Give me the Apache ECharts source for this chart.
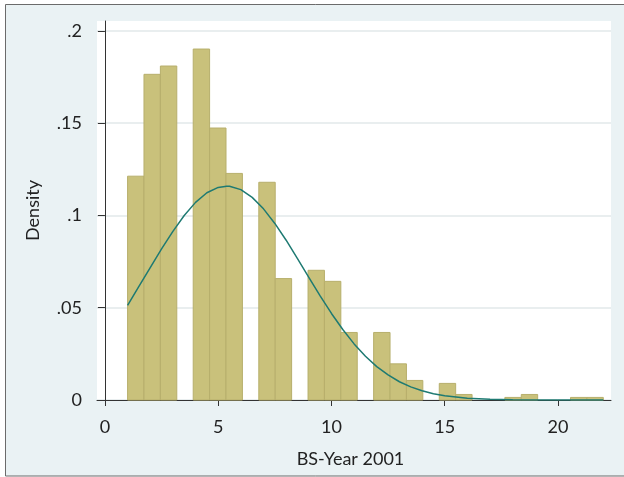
<!DOCTYPE html>
<html>
<head>
<meta charset="utf-8">
<script src="https://cdn.jsdelivr.net/npm/echarts@6/dist/echarts.min.js"></script>
<style>
html,body{margin:0;padding:0;background:#fff;}
#c{width:624px;height:477px;}
</style>
</head>
<body>
<div id="c"></div>
<script>
// Histogram bin edges (BS-Year 2001), 29 bins from 1 to 22
const binEdges = [1, 1.724, 2.448, 3.172, 3.897, 4.621, 5.345, 6.069, 6.793, 7.517,
  8.241, 8.966, 9.690, 10.414, 11.138, 11.862, 12.586, 13.310, 14.034, 14.759,
  15.483, 16.207, 16.931, 17.655, 18.379, 19.103, 19.828, 20.552, 21.276, 22];
// Density of each bin
const densities = [0.1213, 0.1765, 0.1810, 0, 0.1902, 0.1474, 0.1228, 0, 0.1180, 0.0658,
  0, 0.0703, 0.0643, 0.0366, 0, 0.0366, 0.0196, 0.0106, 0, 0.0090,
  0.0030, 0, 0, 0.0014, 0.0030, 0, 0, 0.0014, 0.0014];
// Normal density curve
const curveX = [1, 1.5, 2, 2.5, 3, 3.5, 4, 4.5, 5, 5.37, 5.5, 6, 6.5, 7, 7.5, 8, 8.5, 9, 9.5, 10,
  10.5, 11, 11.5, 12, 12.5, 13, 13.5, 14, 14.5, 15, 16, 17, 18, 19, 20, 21, 22];
const curveY = [0.0513, 0.0616, 0.0718, 0.0819, 0.0914, 0.1000, 0.1071, 0.1123, 0.1152, 0.1159, 0.1158,
  0.1140, 0.1098, 0.1036, 0.0957, 0.0866, 0.0766, 0.0665, 0.0564, 0.0469,
  0.0382, 0.0304, 0.0237, 0.0181, 0.0136, 0.0099, 0.0071, 0.0050, 0.0034, 0.0023,
  0.0010, 0.0004, 0.0001, 0.00004, 0, 0, 0];
const xTicks = [0, 5, 10, 15, 20];
const yTicks = [0, 0.05, 0.1, 0.15, 0.2];
const xTitle = 'BS-Year 2001';
const yTitle = 'Density';

const barData = [];
densities.forEach((d, i) => { if (d > 0) barData.push([binEdges[i], binEdges[i + 1], d]); });
const lineData = curveX.map((x, i) => [x, curveY[i]]);

const font = 'Lato, "Open Sans", sans-serif';
const chart = echarts.init(document.getElementById('c'), null, {renderer: 'canvas'});
chart.setOption({
  backgroundColor: '#ffffff',
  animation: false,
  graphic: [{
    type: 'rect', z: -100, silent: true,
    shape: {x: 5.5, y: 4.5, width: 640, height: 471.5},
    style: {fill: '#EAF2F4', stroke: '#6b6b6b', lineWidth: 1}
  }],
  grid: {
    left: 97, top: 21, right: 13, bottom: 77,
    show: true, backgroundColor: '#ffffff', borderWidth: 0, z: 0
  },
  xAxis: {
    type: 'value', min: -0.35, max: 22.34,
    name: xTitle, nameLocation: 'middle', nameGap: 50,
    nameTextStyle: {fontFamily: font, fontSize: 18, color: '#222', padding: [0, 7, 0, 0]},
    axisLine: {show: true, lineStyle: {color: '#333', width: 1}},
    axisTick: {show: true, length: 6, customValues: xTicks, lineStyle: {color: '#333'}},
    axisLabel: {customValues: xTicks, fontFamily: font, fontSize: 18, color: '#222', margin: 18},
    splitLine: {show: false}
  },
  yAxis: {
    type: 'value', min: 0, max: 0.2054,
    name: yTitle, nameLocation: 'middle', nameGap: 55, nameRotate: 90,
    nameTextStyle: {fontFamily: font, fontSize: 18, color: '#222'},
    axisLine: {show: true, lineStyle: {color: '#333', width: 1}},
    axisTick: {show: true, length: 7, customValues: yTicks, lineStyle: {color: '#333'}},
    axisLabel: {
      customValues: yTicks, fontFamily: font, fontSize: 18, color: '#222', margin: 15,
      formatter: v => v === 0 ? '0' : String(+v.toFixed(3)).replace(/^0\./, '.')
    },
    splitLine: {show: true, lineStyle: {color: '#E2E8EA', width: 1.5}}
  },
  series: [{
    type: 'custom',
    data: barData,
    encode: {x: [0, 1], y: 2},
    z: 2,
    renderItem: function (params, api) {
      const p0 = api.coord([api.value(0), api.value(2)]);
      const p1 = api.coord([api.value(1), 0]);
      return {
        type: 'rect',
        shape: {x: p0[0], y: p0[1], width: p1[0] - p0[0], height: p1[1] - p0[1]},
        style: {fill: '#C9C17B', stroke: '#B7AF6C', lineWidth: 1}
      };
    }
  }, {
    type: 'line',
    data: lineData,
    smooth: false,
    showSymbol: false,
    z: 3,
    lineStyle: {color: '#1E7A72', width: 1.5}
  }]
});
</script>
</body>
</html>
